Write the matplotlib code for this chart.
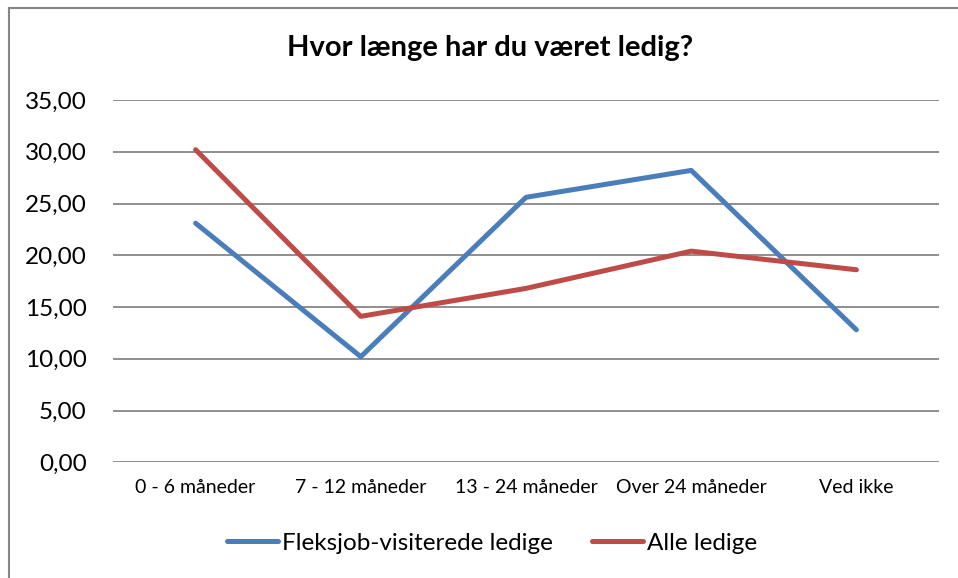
import matplotlib.pyplot as plt
from matplotlib.lines import Line2D

categories = ['0 - 6 måneder', '7 - 12 måneder', '13 - 24 måneder', 'Over 24 måneder', 'Ved ikke']
fleksjob = [23.1, 10.2, 25.6, 28.2, 12.8]
alle = [30.2, 14.1, 16.8, 20.4, 18.6]
yticks = [0, 5, 10, 15, 20, 25, 30, 35]

plt.rcParams['font.family'] = ['Lato', 'DejaVu Sans']

fig = plt.figure(figsize=(9.58, 5.78), dpi=100)
ax = fig.add_axes([113/958, 1 - 462.3/578, 826/958, 362.3/578])

x = range(len(categories))
ax.plot(x, fleksjob, color='#4A7EBB', lw=3.6, solid_capstyle='round', label='Fleksjob-visiterede ledige')
ax.plot(x, alle, color='#BE4B48', lw=3.6, solid_capstyle='round', label='Alle ledige')

ax.set_xlim(-0.5, len(categories) - 0.5)
ax.set_ylim(0, 35)
ax.set_yticks(yticks)
ax.set_yticklabels([('%.2f' % v).replace('.', ',') for v in yticks], fontsize=17.5)
ax.yaxis.set_tick_params(pad=19)
ax.set_xticks(list(x))
ax.set_xticklabels(categories, fontsize=14)
ax.xaxis.set_tick_params(pad=12)
ax.tick_params(length=0)
ax.grid(axis='y', color='#868686', lw=1.3)
ax.set_axisbelow(True)
for s in ax.spines.values():
    s.set_visible(False)

fig.text(490/958, 1 - 48/578, 'Hvor længe har du været ledig?', ha='center', va='center',
         fontsize=21, fontweight='bold')
fig.legend(loc='center', bbox_to_anchor=(492/958, 1 - 543/578), ncol=2, frameon=False,
           fontsize=17.5, handlelength=2.1, handletextpad=0.15, columnspacing=1.6)

# chart border (top and left edges visible)
fig.lines.append(Line2D([8.5/958, 1], [1 - 7.5/578, 1 - 7.5/578], transform=fig.transFigure,
                        color='#868686', lw=1.5))
fig.lines.append(Line2D([8.5/958, 8.5/958], [0, 1 - 7.5/578], transform=fig.transFigure,
                        color='#868686', lw=1.5))

fig.savefig('out.png', dpi=100)
